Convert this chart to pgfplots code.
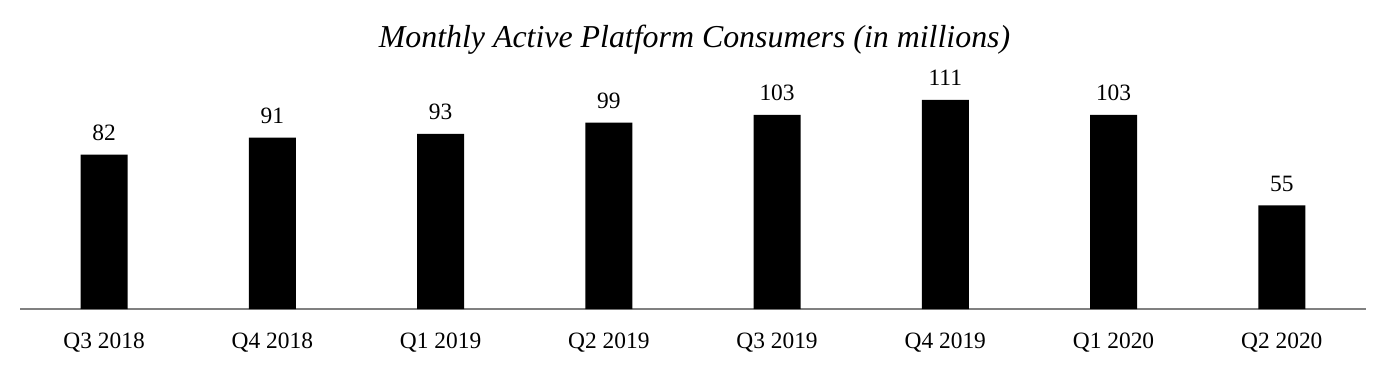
\documentclass[border=0pt]{standalone}
\usepackage{pgfplots}
\pgfplotsset{compat=1.18}
\usepackage{fontspec}
\setmainfont{Liberation Serif}
\begin{document}
\begin{tikzpicture}[x=1bp,y=1bp]
\begin{axis}[
  at={(0,0)}, anchor=south west,
  scale only axis,
  width=1346bp, height=249bp,
  xmin=-0.5, xmax=7.5,
  ymin=0, ymax=132.2,
  axis x line=bottom,
  axis y line=none,
  axis line style={draw=black!50, line width=1.5bp, -},
  xtick=data,
  xticklabels={Q3 2018,Q4 2018,Q1 2019,Q2 2019,Q3 2019,Q4 2019,Q1 2020,Q2 2020},
  x tick label style={font=\fontsize{23.5}{27}\selectfont, anchor=base, yshift=-39bp},
  major tick length=0pt,
  ybar, bar width=47bp,
  nodes near coords,
  /pgf/number format/assume math mode=true,
  every node near coord/.append style={font=\fontsize{23.5}{27}\selectfont, anchor=base, yshift=14bp, text=black},
  clip=false,
]
\addplot[fill=black, draw=none, bar shift=0pt] coordinates {
(0,82) (1,91) (2,93) (3,99) (4,103) (5,111) (6,103) (7,55)};
\end{axis}
\node[font=\fontsize{32}{36}\selectfont\itshape, anchor=base, inner sep=0pt] at (674.5bp,261bp) {Monthly Active Platform Consumers (in millions)};
\path[use as bounding box] (-20bp,-63bp) rectangle (1366bp,309bp);
\end{tikzpicture}
\end{document}
